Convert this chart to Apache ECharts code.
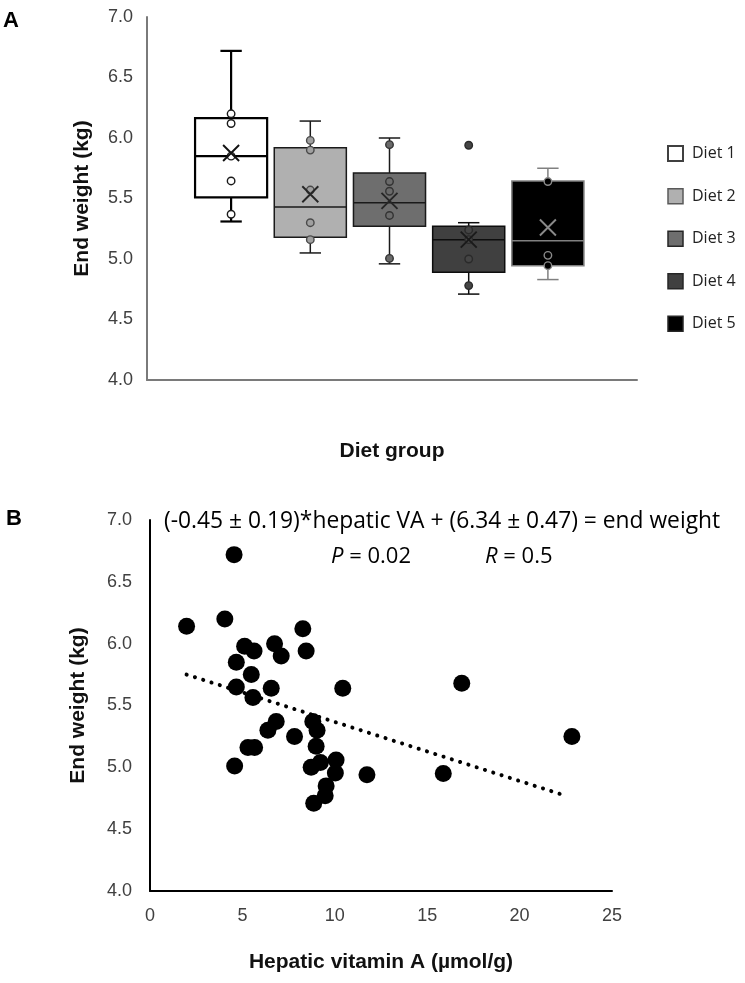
<!DOCTYPE html>
<html>
<head>
<meta charset="utf-8">
<script src="https://cdn.jsdelivr.net/npm/echarts@6/dist/echarts.min.js"></script>
<style>
html,body{margin:0;padding:0;background:#fff;}
#chart{width:745px;height:983px;}
</style>
</head>
<body>
<div id="chart"></div>
<script>
// ---- Panel A: end weight by diet group (box plots) ----
const diets = ['Diet 1', 'Diet 2', 'Diet 3', 'Diet 4', 'Diet 5'];
const boxMin    = [5.31, 5.05, 4.96, 4.71, 4.83];
const boxQ1     = [5.51, 5.18, 5.27, 4.89, 4.945];
const boxMedian = [5.85, 5.43, 5.465, 5.16, 5.15];
const boxQ3     = [6.165, 5.92, 5.71, 5.27, 5.645];
const boxMax    = [6.72, 6.14, 6.00, 5.30, 5.75];
const boxMean   = [5.876, 5.535, 5.48, 5.16, 5.26];
const innerPoints = [
  [6.20, 6.12, 5.85, 5.645, 5.37],
  [5.98, 5.90, 5.57, 5.30, 5.16],
  [5.945, 5.64, 5.56, 5.36, 5.005],
  [5.94, 5.24, 5.16, 5.00, 4.78],
  [5.64, 5.03, 4.945]
];
const weightTicks = [4.0, 4.5, 5.0, 5.5, 6.0, 6.5, 7.0];

// ---- Panel B: end weight vs hepatic vitamin A ----
const hepaticVA = [4.55, 1.98, 4.05, 8.27, 5.12, 5.63, 6.74, 7.10, 8.45, 4.67, 5.48, 4.67, 5.57, 6.56, 10.43,
  6.83, 6.38, 7.82, 8.81, 9.04, 8.99, 5.30, 5.66, 4.58, 8.72, 9.22, 10.07, 10.03, 11.74, 9.53, 9.48, 8.86,
  16.87, 22.83, 15.87];
const endWeight = [6.72, 6.14, 6.20, 6.12, 5.98, 5.94, 6.00, 5.90, 5.94, 5.85, 5.75, 5.65, 5.565, 5.64, 5.64,
  5.37, 5.30, 5.25, 5.37, 5.30, 5.17, 5.16, 5.16, 5.01, 5.00, 5.04, 5.06, 4.955, 4.94, 4.85, 4.77, 4.71,
  5.68, 5.25, 4.95];
const trendX = [1.98, 22.5];
const trendY = [5.75, 4.77];
const vaTicks = [0, 5, 10, 15, 20, 25];

// ---- styles ----
const boxFill   = ['#ffffff', '#b0b0b0', '#6e6e6e', '#404040', '#000000'];
const boxStroke = ['#000000', '#1a1a1a', '#1a1a1a', '#0d0d0d', '#808080'];
const boxLineW  = [2.2, 1.5, 1.5, 1.5, 1.5];
const ptFill    = ['#ffffff', '#a0a0a0', '#6a6a6a', '#454545', '#000000'];
const ptStroke  = ['#1a1a1a', '#4a4a4a', '#333333', '#2a2a2a', '#8a8a8a'];
const meanColor = ['#111111', '#262626', '#262626', '#1a1a1a', '#8a8a8a'];
const legendStroke = ['#404040', '#595959', '#262626', '#262626', '#262626'];

const tickFont = 'Liberation Sans, Arial, sans-serif';
const noteFont = 'Open Sans, Noto Sans, sans-serif';
const chart = echarts.init(document.getElementById('chart'), null, {renderer: 'canvas'});

const series = [];
// box plots via custom series (through category/value scales)
diets.forEach(function (name, i) {
  series.push({
    name: name,
    type: 'custom',
    xAxisIndex: 1, yAxisIndex: 1,
    itemStyle: {color: boxFill[i], borderColor: boxStroke[i]},
    encode: {x: 0, y: [1, 2, 3, 4, 5]},
    data: [[i, boxMin[i], boxQ1[i], boxMedian[i], boxQ3[i], boxMax[i]]],
    z: 2,
    renderItem: function (params, api) {
      const c = api.value(0);
      const lo = api.coord([c, api.value(1)]);
      const q1 = api.coord([c, api.value(2)]);
      const md = api.coord([c, api.value(3)]);
      const q3 = api.coord([c, api.value(4)]);
      const hi = api.coord([c, api.value(5)]);
      const band = api.size([1, 0])[0];
      const w = band * 0.91;
      const cw = band * 0.27;
      const cx = lo[0];
      const ls = {stroke: boxStroke[i], lineWidth: boxLineW[i], fill: null};
      return {
        type: 'group',
        children: [
          {type: 'line', shape: {x1: cx, y1: hi[1], x2: cx, y2: q3[1]}, style: ls},
          {type: 'line', shape: {x1: cx, y1: q1[1], x2: cx, y2: lo[1]}, style: ls},
          {type: 'line', shape: {x1: cx - cw / 2, y1: hi[1], x2: cx + cw / 2, y2: hi[1]}, style: ls},
          {type: 'line', shape: {x1: cx - cw / 2, y1: lo[1], x2: cx + cw / 2, y2: lo[1]}, style: ls},
          {type: 'rect', shape: {x: cx - w / 2, y: q3[1], width: w, height: q1[1] - q3[1]},
            style: {fill: boxFill[i], stroke: boxStroke[i], lineWidth: boxLineW[i]}},
          {type: 'line', shape: {x1: cx - w / 2, y1: md[1], x2: cx + w / 2, y2: md[1]}, style: ls}
        ]
      };
    }
  });
});
// inner points
innerPoints.forEach(function (vals, i) {
  series.push({
    name: 'points ' + (i + 1),
    type: 'scatter',
    xAxisIndex: 1, yAxisIndex: 1,
    symbol: 'circle', symbolSize: 7.5,
    itemStyle: {color: ptFill[i], borderColor: ptStroke[i], borderWidth: 1.4, opacity: 1},
    data: vals.map(function (v) { return [i, v]; }),
    z: 3, silent: true
  });
});
// means
series.push({
  name: 'mean',
  type: 'scatter',
  xAxisIndex: 1, yAxisIndex: 1,
  symbol: 'path://M0,0L10,10M10,0L0,10',
  symbolSize: 16,
  data: boxMean.map(function (v, i) {
    return {value: [i, v], itemStyle: {color: 'none', borderColor: meanColor[i], borderWidth: 1.9, opacity: 1}};
  }),
  z: 4, silent: true
});
// panel B scatter
series.push({
  name: 'fish',
  type: 'scatter',
  xAxisIndex: 2, yAxisIndex: 2,
  symbol: 'circle', symbolSize: 17,
  itemStyle: {color: '#000000', opacity: 1},
  data: hepaticVA.map(function (x, k) { return [x, endWeight[k]]; }),
  z: 3, silent: true
});
series.push({
  name: 'trend',
  type: 'line',
  xAxisIndex: 2, yAxisIndex: 2,
  showSymbol: false, symbol: 'none',
  lineStyle: {color: '#000000', width: 4, type: [0.1, 8.6], cap: 'round', opacity: 1},
  data: trendX.map(function (x, k) { return [x, trendY[k]]; }),
  z: 2, silent: true
});

const option = {
  animation: false,
  backgroundColor: '#ffffff',
  grid: [
    {left: 147, top: 17, width: 490, height: 363},
    {left: 191.5, top: 17, width: 396, height: 363},
    {left: 150, top: 520, width: 462, height: 371}
  ],
  xAxis: [
    {gridIndex: 0, type: 'category', data: [''], axisTick: {show: false}, axisLabel: {show: false},
      axisLine: {lineStyle: {color: '#7a7a7a', width: 2}},
      name: 'Diet group', nameLocation: 'middle', nameGap: 61,
      nameTextStyle: {fontFamily: tickFont, fontWeight: 'bold', fontSize: 21, color: '#111'}},
    {gridIndex: 1, type: 'category', data: diets, show: false},
    {gridIndex: 2, type: 'value', min: 0, max: 25, interval: 5, splitLine: {show: false},
      axisTick: {show: false},
      axisLine: {lineStyle: {color: '#000000', width: 2}},
      axisLabel: {fontFamily: tickFont, fontSize: 18, color: '#404040', margin: 16,
        formatter: function (v) { return vaTicks.indexOf(v) >= 0 ? String(v) : ''; }},
      name: 'Hepatic vitamin A (µmol/g)', nameLocation: 'middle', nameGap: 61,
      nameTextStyle: {fontFamily: tickFont, fontWeight: 'bold', fontSize: 21, color: '#111'}}
  ],
  yAxis: [
    {gridIndex: 0, type: 'value', min: 4, max: 7, interval: 0.5, splitLine: {show: false},
      axisTick: {show: false},
      axisLine: {show: true, lineStyle: {color: '#7a7a7a', width: 2}},
      axisLabel: {fontFamily: tickFont, fontSize: 18, color: '#404040', margin: 14,
        formatter: function (v) { return weightTicks.indexOf(v) >= 0 ? v.toFixed(1) : ''; }},
      name: 'End weight (kg)', nameLocation: 'middle', nameGap: 54, nameRotate: 90,
      nameTextStyle: {fontFamily: tickFont, fontWeight: 'bold', fontSize: 21, color: '#111'}},
    {gridIndex: 1, type: 'value', min: 4, max: 7, show: false, splitLine: {show: false}},
    {gridIndex: 2, type: 'value', min: 4, max: 7, interval: 0.5, splitLine: {show: false},
      axisTick: {show: false},
      axisLine: {show: true, lineStyle: {color: '#000000', width: 2}},
      axisLabel: {fontFamily: tickFont, fontSize: 18, color: '#404040', margin: 18,
        formatter: function (v) { return weightTicks.indexOf(v) >= 0 ? v.toFixed(1) : ''; }},
      name: 'End weight (kg)', nameLocation: 'middle', nameGap: 61, nameRotate: 90,
      nameTextStyle: {fontFamily: tickFont, fontWeight: 'bold', fontSize: 21, color: '#111'}}
  ],
  legend: {
    orient: 'vertical', left: 667, top: 145, padding: 0, itemWidth: 15, itemHeight: 15, itemGap: 26,
    icon: 'rect', selectedMode: false,
    textStyle: {fontFamily: noteFont, fontSize: 16, color: '#222', padding: [0, 0, 0, 4]},
    data: diets.map(function (d, i) {
      return {name: d, icon: 'rect',
        itemStyle: {color: boxFill[i], borderColor: legendStroke[i], borderWidth: i === 0 ? 2 : 1.5}};
    })
  },
  graphic: [
    {type: 'text', left: 3, top: 10, style: {text: 'A', font: 'bold 22px Liberation Sans, Arial, sans-serif', fill: '#000'}},
    {type: 'text', left: 6, top: 508, style: {text: 'B', font: 'bold 22px Liberation Sans, Arial, sans-serif', fill: '#000'}},
    {type: 'text', left: 164, top: 510,
      style: {text: '(-0.45 ± 0.19)*hepatic VA + (6.34 ± 0.47) = end weight',
        font: '22.8px ' + noteFont, fill: '#000'}},
    {type: 'text', left: 331, top: 546,
      style: {text: '{i|P} = 0.02', font: '22px ' + noteFont, fill: '#000',
        rich: {i: {fontStyle: 'italic', fontFamily: noteFont, fontSize: 22, fill: '#000'}}}},
    {type: 'text', left: 485, top: 546,
      style: {text: '{i|R} = 0.5', font: '22px ' + noteFont, fill: '#000',
        rich: {i: {fontStyle: 'italic', fontFamily: noteFont, fontSize: 22, fill: '#000'}}}}
  ],
  series: series
};
chart.setOption(option);
</script>
</body>
</html>
